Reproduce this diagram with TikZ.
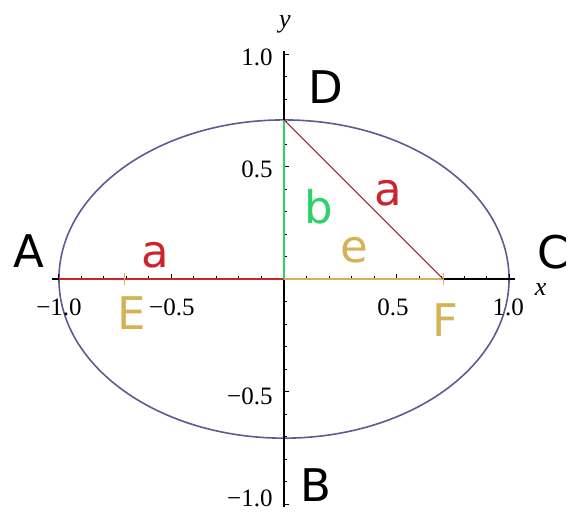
\documentclass[tikz,border=0pt]{standalone}
\usepackage{fontspec}
\setmainfont{Liberation Serif}
\newfontfamily\lblfont{DejaVu Sans}
\definecolor{ellcol}{RGB}{92,92,145}
\definecolor{redA}{RGB}{205,35,45}
\definecolor{greenB}{RGB}{45,210,105}
\definecolor{tanE}{RGB}{212,178,85}
\definecolor{diagcol}{RGB}{150,40,50}
\begin{document}
\begin{tikzpicture}[x=112.5pt,y=112.5pt,
  lbl/.style={font=\lblfont\fontsize{22.5}{27}\selectfont, inner sep=0pt},
  ticklbl/.style={font=\fontsize{12.5}{14}\selectfont, inner sep=0pt},
  axlbl/.style={font=\itshape\fontsize{13}{15}\selectfont, inner sep=0pt},
  axisline/.style={black, line width=0.6pt},
  tickline/.style={black, line width=0.5pt}]
\useasboundingbox (-1.262,-1.036) rectangle (1.262,1.240);
% key points
\coordinate (O) at (0,0);
\coordinate (Ap) at (-1,0);
\coordinate (Cp) at (1,0);
\coordinate (Dp) at (0,0.7071);
\coordinate (Bp) at (0,-0.7071);
\coordinate (Fp) at (0.7071,0);
\coordinate (Ep) at (-0.7071,0);
\coordinate (xl) at (-1.03,0);
\coordinate (xr) at (1.025,0);
\coordinate (yb) at (0,-1.015);
\coordinate (yt) at (0,1.015);
% ellipse
\draw[ellcol, line width=0.8pt] (O) ellipse [x radius=1, y radius=0.7071];
% axes
\draw[axisline] (xl) -- (xr);
\draw[axisline] (yb) -- (yt);
% ticks on x axis
\foreach \i in {-10,...,10}{
  \pgfmathsetmacro{\len}{(abs(\i)==5 || abs(\i)==10) ? 0.024 : 0.013}
  \draw[tickline] (\i/10,0) -- ++(0,\len);
}
% ticks on y axis
\foreach \i in {-10,...,10}{
  \pgfmathsetmacro{\len}{(abs(\i)==5 || abs(\i)==10) ? 0.024 : 0.013}
  \draw[tickline] (0,\i/10) -- ++(\len,0);
}
% coloured segments
\draw[redA, line width=0.9pt] (Ap) -- (O);
\draw[tanE, line width=0.9pt] (O) -- (Fp);
\draw[greenB, line width=0.9pt] (O) -- (Dp);
\draw[diagcol, line width=0.5pt] (Dp) -- (Fp);
\draw[tanE, line width=0.6pt] ([yshift=-3pt]Ep) -- ([yshift=3pt]Ep);
\draw[tanE, line width=0.6pt] ([yshift=-3pt]Fp) -- ([yshift=3pt]Fp);
% tick labels
\node[ticklbl] (xtm1) at (-1.0,-0.124) {−1.0};
\node[ticklbl] (xtm05) at (-0.498,-0.124) {−0.5};
\node[ticklbl] (xt05) at (0.484,-0.124) {0.5};
\node[ticklbl] (xt1) at (0.996,-0.124) {1.0};
\node[ticklbl, anchor=east] (yt1) at (-0.049,0.987) {1.0};
\node[ticklbl, anchor=east] (yt05) at (-0.049,0.489) {0.5};
\node[ticklbl, anchor=east] (ytm05) at (-0.049,-0.52) {−0.5};
\node[ticklbl, anchor=east] (ytm1) at (-0.049,-0.975) {−1.0};
\node[axlbl] (xlab) at (1.14,-0.045) {x};
\node[axlbl] (ylab) at (0.004,1.133) {y};
% point labels
\node[lbl] (A) at (-1.133,0.124) {A};
\node[lbl] (C) at (1.195,0.12) {C};
\node[lbl] (D) at (0.187,0.853) {D};
\node[lbl] (B) at (0.142,-0.916) {B};
\node[lbl, tanE] (E) at (-0.676,-0.151) {E};
\node[lbl, tanE] (F) at (0.716,-0.182) {F};
% segment labels
\node[lbl, redA] (a1) at (-0.573,0.107) {a};
\node[lbl, redA] (a2) at (0.462,0.382) {a};
\node[lbl, greenB] (b) at (0.156,0.320) {b};
\node[lbl, tanE] (e) at (0.311,0.129) {e};
\end{tikzpicture}
\end{document}
